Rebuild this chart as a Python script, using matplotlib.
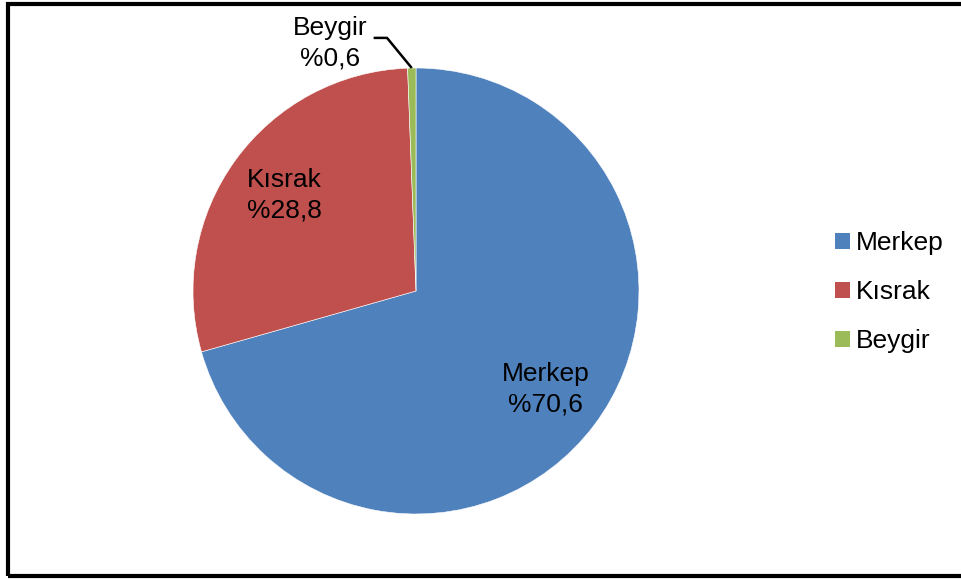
#!/usr/bin/env python3
# Pie chart: share of animal types (Merkep / Kısrak / Beygir)
import numpy as np
import matplotlib
matplotlib.use("Agg")
import matplotlib.pyplot as plt
from matplotlib.patches import Rectangle, Patch

labels = ["Merkep", "Kısrak", "Beygir"]
values = [70.6, 28.8, 0.6]
pct_text = ["%70,6", "%28,8", "%0,6"]
colors = ["#4F81BD", "#C0504D", "#9BBB59"]

plt.rcParams["font.family"] = ["Liberation Sans", "DejaVu Sans"]
FS = 19

W, H = 961, 580
fig = plt.figure(figsize=(W / 100, H / 100), dpi=100)

# outer black frame (right edge runs off the image)
fig.patches.append(Rectangle((8 / W, 4 / H), 1.0, 572 / H, transform=fig.transFigure,
                             fill=False, edgecolor="black", linewidth=3.0))

cx, cy, r = 416, 291, 223
ax = fig.add_axes([(cx - r) / W, (H - cy - r) / H, 2 * r / W, 2 * r / H])
wedges, _ = ax.pie(values, colors=colors, startangle=90, counterclock=False,
                   radius=1.0, wedgeprops=dict(edgecolor="white", linewidth=0.4))
ax.set_xlim(-1, 1)
ax.set_ylim(-1, 1)
ax.set_aspect("equal")
ax.set_axis_off()

for i, w in enumerate(wedges):
    mid = np.deg2rad((w.theta1 + w.theta2) / 2)
    txt = f"{labels[i]}\n{pct_text[i]}"
    if values[i] > 5:
        ax.text(0.73 * np.cos(mid), 0.73 * np.sin(mid), txt, ha="center", va="center",
                fontsize=FS, linespacing=1.35)
    else:
        px, py = np.cos(mid), np.sin(mid)
        ax.plot([-0.19, -0.13, px], [1.135, 1.135, py], color="black", lw=1.8,
                clip_on=False, solid_capstyle="butt")
        ax.text(-0.385, 1.112, txt, ha="center", va="center", fontsize=FS,
                linespacing=1.35)

handles = [Patch(facecolor=c, edgecolor="none") for c in colors]
fig.legend(handles, labels, loc="center left", bbox_to_anchor=(835 / W, 1 - 292 / H),
           frameon=False, fontsize=FS, handlelength=0.55, handleheight=0.55,
           handletextpad=0.25, labelspacing=0.95, borderaxespad=0, borderpad=0)

fig.savefig("out.png", dpi=100)
